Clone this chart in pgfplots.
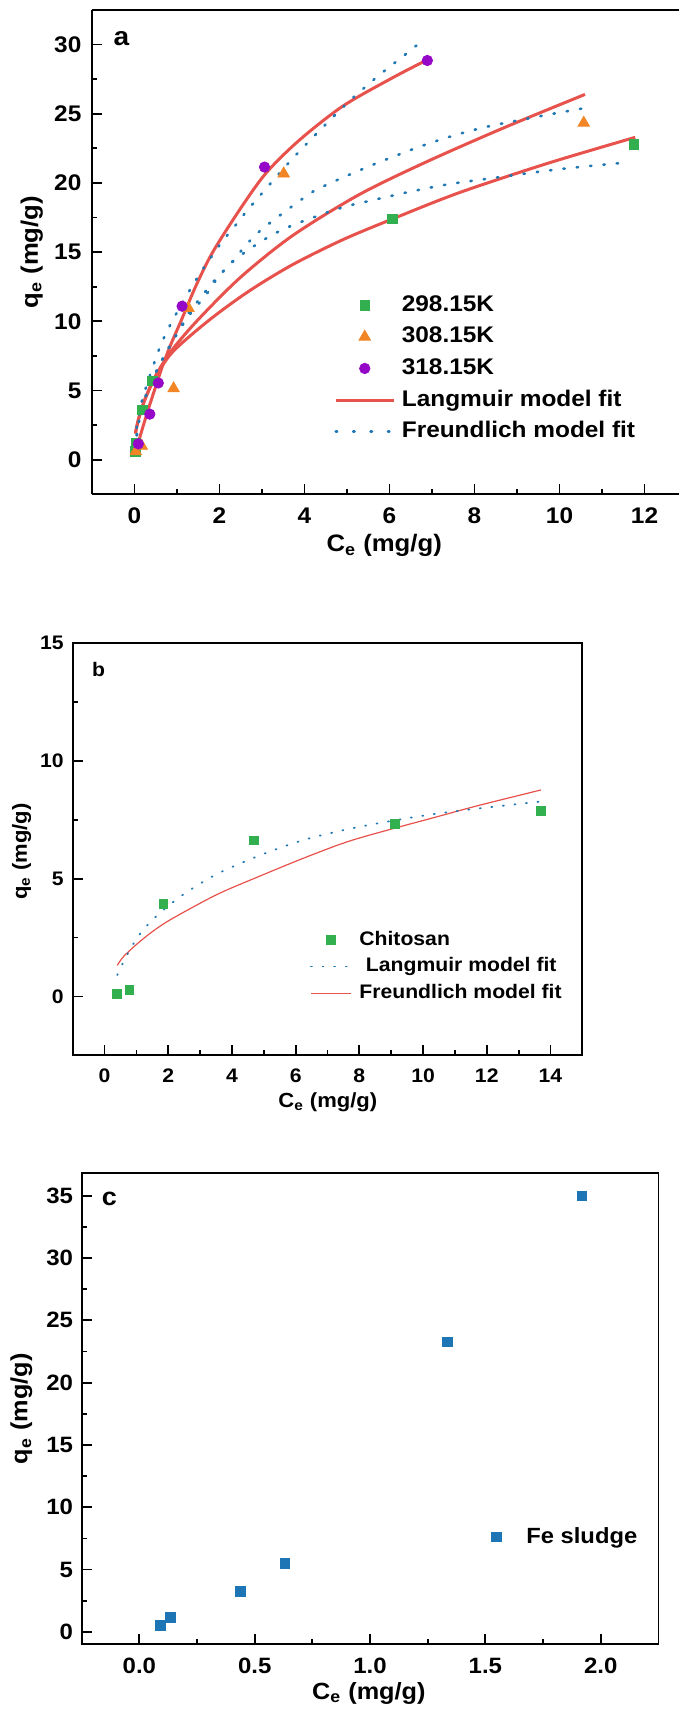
\documentclass[border=0pt]{standalone}
\usepackage{fontspec}
\setmainfont{Liberation Sans}[FakeStretch=1.08]
\usepackage{pgfplots}
\pgfplotsset{compat=1.18}
\definecolor{cgreen}{RGB}{50,176,80}
\definecolor{corange}{RGB}{242,133,37}
\definecolor{cpurple}{RGB}{150,8,200}
\definecolor{cred}{RGB}{232,82,76}
\definecolor{cblue}{RGB}{31,119,180}
\definecolor{cblueC}{RGB}{30,117,182}
\pgfplotsset{
  common/.style={
    scale only axis, clip=false,
    axis line style={line width=0.9pt,-},
    tick style={line width=0.9pt, black},
    major tick length=5pt, minor tick length=2.5pt,
    tick align=inside, tick pos=left,
    /pgf/number format/assume math mode=true,
  },
  legA/.style={legend image code/.code={\path[draw=none,fill=none] (0pt,0pt) (29pt,0pt); \draw[mark repeat=2,mark phase=2,##1] plot coordinates {(0pt,0pt) (14.5pt,0pt) (29pt,0pt)};}},
  legB/.style={legend image code/.code={\path[draw=none,fill=none] (0pt,0pt) (20pt,0pt); \draw[mark repeat=2,mark phase=2,##1] plot coordinates {(0pt,0pt) (10pt,0pt) (20pt,0pt)};}},
  legC/.style={legend image code/.code={\path[draw=none,fill=none] (0pt,0pt) (20pt,0pt); \draw[mark repeat=2,mark phase=2,##1] plot coordinates {(0pt,0pt) (10pt,0pt) (20pt,0pt)};}},
}
\begin{document}
\begin{tikzpicture}
\path[use as bounding box] (0,0) rectangle (340pt,-855.5pt);
% ---------------- panel a ----------------
\begin{axis}[common,
  width=293.25pt, height=242.2pt, at={(46pt,-5pt)}, anchor=north west,
  xmin=-1, xmax=12.8, ymin=-2.5, ymax=32.5,
  axis x line*=box, axis y line*=left,
  xtick={0,2,...,12}, ytick={0,5,...,30},
  minor x tick num=1, minor y tick num=1,
  ticklabel style={font=\bfseries\fontsize{11.3}{11.3}\selectfont},
  xticklabel style={yshift=-3.3pt}, yticklabel style={xshift=-1.8pt},
  legend cell align=left,
  legend style={draw=none, fill=none, inner sep=0pt, outer sep=0pt,
    at={(axis cs:4.70,6.6)}, anchor=west,
    font=\bfseries\fontsize{11.3}{13}\selectfont,
    nodes={inner sep=0pt, text height=10.9pt, text depth=4.9pt},
    /tikz/every odd column/.append style={column sep=3.3pt}},
]
\addlegendimage{only marks, mark=square*, mark size=2.4pt, color=cgreen, legA}
\addlegendentry{298.15K}
\addlegendimage{only marks, mark=triangle*, mark size=3.3pt, color=corange, legA}
\addlegendentry{308.15K}
\addlegendimage{only marks, mark=*, mark size=2.6pt, color=cpurple, legA}
\addlegendentry{318.15K}
\addlegendimage{color=cred, line width=1.5pt, legA}
\addlegendentry{Langmuir model fit}
\addlegendimage{color=cblue, line width=1.3pt, dash pattern=on 0.7pt off 8pt, line cap=round, legA}
\addlegendentry{Freundlich model fit}
% markers
\addplot[forget plot, only marks, mark=square*, mark size=2.4pt, color=cgreen] coordinates {
 (0.02,0.6) (0.03,1.2) (0.19,3.6) (0.42,5.7) (6.07,17.4) (11.75,22.8)};
\addplot[forget plot, only marks, mark=triangle*, mark size=3.3pt, color=corange] coordinates {
 (0.03,0.6) (0.17,1.0) (0.92,5.15) (1.27,10.95) (3.51,20.67) (10.57,24.34)};
\addplot[forget plot, only marks, mark=*, mark size=2.6pt, color=cpurple] coordinates {
 (0.09,1.15) (0.36,3.3) (0.56,5.55) (1.12,11.1) (3.06,21.15) (6.89,28.85)};
% Langmuir (red)
\addplot[forget plot, smooth, color=cred, line width=1.5pt] coordinates {
 (0.09,1.25) (0.2,2.4) (0.35,3.9) (0.5,5.3) (0.65,6.7) (0.85,8.3) (1.09,10.0) (1.45,12.6)
 (1.84,15.0) (2.46,18.0) (3.09,20.7) (3.88,23.1) (4.9,25.55) (6.07,27.6) (6.89,28.9)};
\addplot[forget plot, smooth, color=cred, line width=1.5pt] coordinates {
 (0.02,1.9) (0.1,3.0) (0.25,4.4) (0.5,6.1) (0.9,8.0) (1.52,10.2) (2.5,13.2) (3.72,16.2)
 (5.28,19.15) (6.85,21.5) (8.7,24.0) (10.6,26.4)};
\addplot[forget plot, smooth, color=cred, line width=1.5pt] coordinates {
 (0.02,1.9) (0.1,3.0) (0.25,4.4) (0.5,6.0) (0.9,7.8) (1.76,10.1) (2.7,12.2) (3.72,14.1)
 (4.9,15.9) (6.07,17.4) (7.64,19.3) (9.7,21.4) (11.78,23.3)};
% Freundlich (blue dotted)
\addplot[forget plot, smooth, color=cblue, line width=1.3pt, dash pattern=on 0.7pt off 6pt, line cap=round] coordinates {
 (0.05,2.3) (0.09,3.0) (0.17,4.2) (0.31,5.6) (0.58,8.0) (0.8,9.5) (1.1,11.2) (1.33,12.4)
 (1.57,13.6) (1.84,14.8) (2.07,15.8) (2.34,16.8) (2.62,17.9) (2.9,18.9) (3.21,20.0)
 (3.76,21.9) (4.39,23.9) (5.05,25.9) (5.72,27.7) (6.42,29.4) (6.78,30.3)};
\addplot[forget plot, smooth, color=cblue, line width=1.3pt, dash pattern=on 0.7pt off 6pt, line cap=round] coordinates {
 (0.03,0.8) (0.06,1.8) (0.1,2.7) (0.17,3.7) (0.3,4.9) (0.5,6.3) (0.75,7.8) (1.0,9.1)
 (1.27,10.6) (1.5,11.5) (1.68,12.2) (1.92,13.1) (2.24,14.1) (2.51,15.1) (2.83,16.2)
 (3.18,17.1) (3.57,18.0) (3.88,18.7) (4.27,19.5) (5.13,20.7) (5.92,21.7) (6.78,22.7)
 (7.48,23.4) (8.34,24.1) (9.67,24.9) (10.57,25.4)};
\addplot[forget plot, smooth, color=cblue, line width=1.3pt, dash pattern=on 0.7pt off 6pt, line cap=round] coordinates {
 (0.02,0.8) (0.05,1.8) (0.1,2.7) (0.19,3.8) (0.3,4.9) (0.5,6.3) (0.75,7.8) (1.0,9.1)
 (1.3,10.5) (1.68,11.9) (1.92,13.0) (2.2,14.0) (2.51,14.8) (2.94,15.7) (3.33,16.4)
 (3.76,17.0) (4.2,17.5) (4.6,17.95) (5.09,18.4) (5.52,18.7) (6.38,19.3) (7.33,19.88)
 (8.29,20.3) (10.0,21.0) (11.47,21.45)};
\node[font=\bfseries\fontsize{13}{13}\selectfont] at (axis cs:-0.31,30.4) {a};
\node[font=\bfseries\fontsize{11.9}{13}\selectfont] at (axis cs:5.875,-6.21) {C\textsubscript{e} (mg/g)};
\node[rotate=90, font=\bfseries\fontsize{11.9}{13}\selectfont] at (axis cs:-2.42,15.0) {q\textsubscript{e} (mg/g)};
\end{axis}
% ---------------- panel b ----------------
\begin{axis}[common,
  width=254.8pt, height=206pt, at={(36.35pt,-321.65pt)}, anchor=north west,
  xmin=-1, xmax=15, ymin=-2.5, ymax=15,
  xtick={0,2,...,14}, ytick={0,5,10,15},
  minor x tick num=1, minor y tick num=1,
  ticklabel style={font=\bfseries\fontsize{9.8}{9.8}\selectfont},
  xticklabel style={yshift=-3.2pt}, yticklabel style={xshift=-1pt},
  legend cell align=left,
  legend style={draw=none, fill=none, inner sep=0pt, outer sep=0pt,
    at={(axis cs:6.45,1.27)}, anchor=west,
    font=\bfseries\fontsize{9.8}{12}\selectfont,
    nodes={inner sep=0pt, text height=9.2pt, text depth=4.1pt},
    /tikz/every odd column/.append style={column sep=3.8pt}},
]
\addlegendimage{only marks, mark=square*, mark size=2.2pt, color=cgreen, legB}
\addlegendentry{Chitosan}
\addlegendimage{color=cblue, line width=0.9pt, dash pattern=on 0.5pt off 5.3pt, line cap=round, legB}
\addlegendentry{\hspace{3.3pt}Langmuir model fit}
\addlegendimage{color=cred, line width=0.6pt, legB}
\addlegendentry{Freundlich model fit}
\addplot[forget plot, smooth, color=cred, line width=0.6pt] coordinates {
 (0.4,1.32) (0.6,1.7) (1.08,2.3) (1.6,2.85) (2.17,3.34) (3.53,4.33) (4.89,5.12) (6.26,5.88)
 (7.62,6.57) (8.98,7.1) (10.35,7.6) (11.71,8.1) (13.7,8.77)};
\addplot[forget plot, smooth, color=cblue, line width=0.9pt, dash pattern=on 0.5pt off 5.3pt, line cap=round] coordinates {
 (0.4,0.91) (0.67,1.67) (1.08,2.6) (1.62,3.4) (2.44,4.3) (3.53,5.2) (4.89,6.0) (6.26,6.65)
 (7.62,7.1) (8.98,7.45) (10.35,7.75) (11.71,7.98) (13.7,8.28)};
\addplot[forget plot, only marks, mark=square*, mark size=2.2pt, color=cgreen] coordinates {
 (0.40,0.12) (0.78,0.27) (1.85,3.92) (4.69,6.63) (9.12,7.34) (13.7,7.87)};
\node[font=\bfseries\fontsize{9.8}{9.8}\selectfont] at (axis cs:-0.19,13.9) {b};
\node[font=\bfseries\fontsize{10.2}{11}\selectfont] at (axis cs:7.01,-4.49) {C\textsubscript{e} (mg/g)};
\node[rotate=90, font=\bfseries\fontsize{10.2}{11}\selectfont] at (axis cs:-2.60,6.15) {q\textsubscript{e} (mg/g)};
\end{axis}
% ---------------- panel c ----------------
\begin{axis}[common,
  width=288.35pt, height=235.5pt, at={(40.85pt,-586.65pt)}, anchor=north west,
  xmin=-0.25, xmax=2.25, ymin=-1, ymax=36.8,
  xtick={0,0.5,1.0,1.5,2.0}, ytick={0,5,...,35},
  minor x tick num=1, minor y tick num=1,
  ticklabel style={font=\bfseries\fontsize{11.1}{11.1}\selectfont},
  xticklabel style={yshift=-3.4pt, /pgf/number format/fixed, /pgf/number format/fixed zerofill, /pgf/number format/precision=1},
  yticklabel style={xshift=-0.8pt},
  legend cell align=left,
  legend style={draw=none, fill=none, inner sep=0pt, outer sep=0pt,
    at={(axis cs:1.460,7.63)}, anchor=west,
    font=\bfseries\fontsize{11}{13}\selectfont,
    nodes={inner sep=0pt},
    /tikz/every odd column/.append style={column sep=5.1pt}},
]
\addlegendimage{only marks, mark=square*, mark size=2.4pt, color=cblueC, legC}
\addlegendentry{Fe sludge}
\addplot[forget plot, only marks, mark=square*, mark size=2.4pt, color=cblueC] coordinates {
 (0.092,0.54) (0.135,1.14) (0.438,3.24) (0.63,5.5) (1.334,23.26) (1.918,35.0)};
\node[font=\bfseries\fontsize{12.5}{12.5}\selectfont] at (axis cs:-0.13,34.75) {c};
\node[font=\bfseries\fontsize{11.7}{13}\selectfont] at (axis cs:0.995,-4.92) {C\textsubscript{e} (mg/g)};
\node[rotate=90, font=\bfseries\fontsize{11.7}{13}\selectfont] at (axis cs:-0.511,17.9) {q\textsubscript{e} (mg/g)};
\end{axis}
\end{tikzpicture}
\end{document}
